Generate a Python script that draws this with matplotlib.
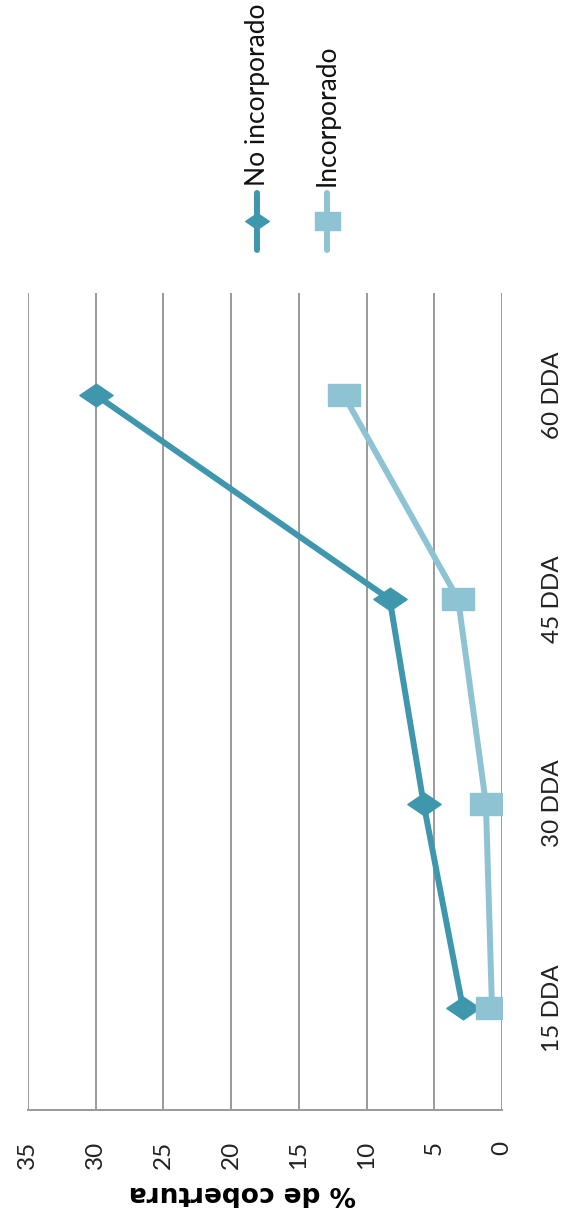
import numpy as np
import matplotlib
matplotlib.use("Agg")
import matplotlib.pyplot as plt
from matplotlib.lines import Line2D
from matplotlib.path import Path

# datos (DDA = días después de la aplicación)
categorias = ["15 DDA", "30 DDA", "45 DDA", "60 DDA"]
no_incorporado = [2.9, 5.8, 8.3, 30.0]
incorporado = [0.75, 1.2, 3.25, 11.7]
ticks_valor = [0, 5, 10, 15, 20, 25, 30, 35]
series = ["No incorporado", "Incorporado"]

color_oscuro = "#3F97AE"
color_claro = "#8EC3D4"
gris = "#9A9A9A"

plt.rcParams["font.family"] = ["Lato", "DejaVu Sans"]

# marcadores achatados (el gráfico está girado 90°)
rombo = Path([(-1, 0), (0, 0.68), (1, 0), (0, -0.68), (-1, 0)],
             [Path.MOVETO, Path.LINETO, Path.LINETO, Path.LINETO, Path.CLOSEPOLY])
cuadro = Path([(-1, -0.72), (1, -0.72), (1, 0.72), (-1, 0.72), (-1, -0.72)],
              [Path.MOVETO, Path.LINETO, Path.LINETO, Path.LINETO, Path.CLOSEPOLY])

fig = plt.figure(figsize=(5.7, 12.15), dpi=100)
ax = fig.add_axes([0.049, 0.0864, 0.832, 0.6726])

pos = np.arange(len(categorias))
ax.plot(no_incorporado, pos, color=color_oscuro, lw=4.3, marker=rombo,
        markersize=24, solid_capstyle="round", zorder=3)
ax.plot(incorporado, pos, color=color_claro, lw=4.3, marker=cuadro,
        markersize=23, solid_capstyle="round", zorder=3)

ax.set_xlim(35, 0)
ax.set_ylim(-0.5, len(categorias) - 0.5)

ax.set_xticks(ticks_valor)
ax.set_xticklabels([str(t) for t in ticks_valor], rotation=90, fontsize=17.5)
ax.tick_params(axis="x", length=0, pad=22, colors="#222222")

ax.yaxis.tick_right()
ax.set_yticks(pos)
ax.set_yticklabels(categorias, rotation=90, va="center", fontsize=17.5)
ax.tick_params(axis="y", length=0, pad=29, colors="#222222")

ax.grid(axis="x", color=gris, lw=1.4)
ax.set_axisbelow(True)
for s in ["top", "left", "right"]:
    ax.spines[s].set_visible(False)
ax.spines["bottom"].set_color(gris)
ax.spines["bottom"].set_linewidth(1.4)

fig.text(0.426, 0.0185, "% de cobertura", rotation=180, ha="center", va="center",
         fontsize=19, fontweight="bold", family="DejaVu Sans")

# leyenda girada
W, H = 570.0, 1215.0
leyenda = [(257, color_oscuro, rombo, 17), (327, color_claro, cuadro, 18)]
for nombre, (xp, c, m, ms) in zip(series, leyenda):
    fig.add_artist(Line2D([xp / W, xp / W], [1 - 193 / H, 1 - 250 / H],
                          color=c, lw=4.3, solid_capstyle="round"))
    fig.add_artist(Line2D([xp / W], [1 - 221 / H], color=c, marker=m,
                          markersize=ms, lw=0))
    fig.text(xp / W, 1 - 186 / H, nombre, rotation=90, ha="center", va="bottom",
             fontsize=19, color="#111111")

fig.savefig("out.png", dpi=100)
